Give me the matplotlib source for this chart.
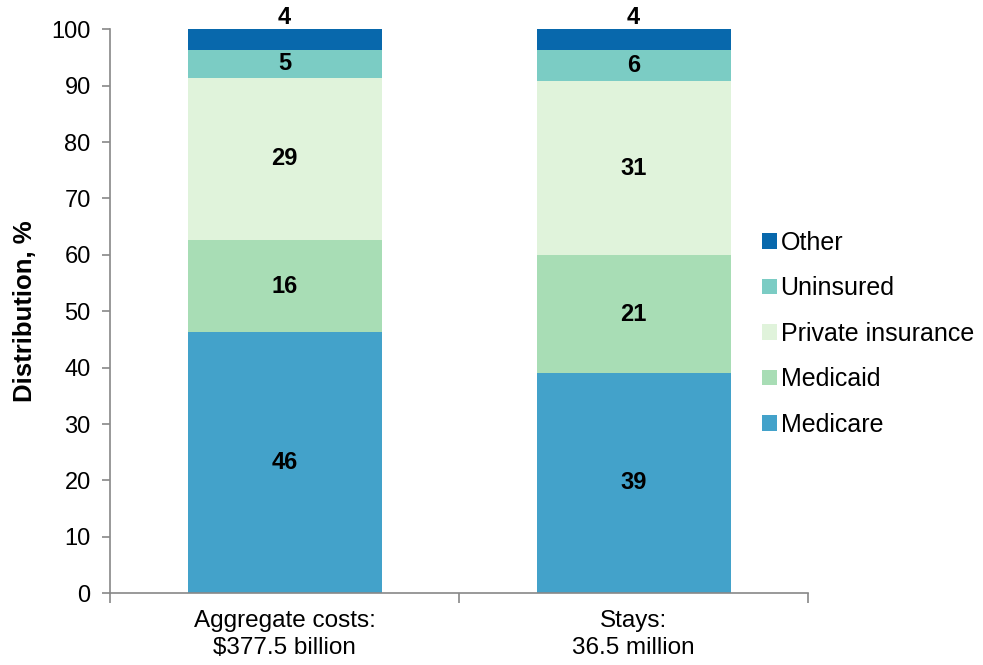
import matplotlib
matplotlib.use("Agg")
import matplotlib.pyplot as plt
import numpy as np

plt.rcParams['font.family'] = ['Liberation Sans', 'DejaVu Sans']

# Data (percent distribution by payer)
categories = ['Aggregate costs:\n$377.5 billion', 'Stays:\n36.5 million']
payers = ['Medicare', 'Medicaid', 'Private insurance', 'Uninsured', 'Other']
medicare = [46.3, 39.1]
medicaid = [16.3, 20.8]
private_ins = [28.8, 30.9]
uninsured = [4.9, 5.6]
other = [3.7, 3.6]

colors = ['#43a2ca', '#a8ddb5', '#e0f3db', '#7bccc4', '#0868ac']

fig = plt.figure(figsize=(9.83, 6.65), dpi=100)
ax = fig.add_axes([0.112, 0.108, 0.71, 0.848])

x = np.arange(len(categories))
bottom = np.zeros(len(categories))
series = [medicare, medicaid, private_ins, uninsured, other]
for vals, name, col in zip(series, payers, colors):
    vals = np.array(vals)
    ax.bar(x, vals, width=0.556, bottom=bottom, color=col, label=name,
           edgecolor='none', zorder=2)
    for xi, v, bt in zip(x, vals, bottom):
        if name == 'Other':
            ax.text(xi, bt + v + 0.1, f'{v:.0f}', ha='center', va='bottom',
                    fontsize=17, fontweight='bold')
        else:
            ax.text(xi, bt + v / 2, f'{v:.0f}', ha='center', va='center',
                    fontsize=17, fontweight='bold')
    bottom = bottom + vals

ax.set_xlim(-0.5, 1.5)
ax.set_ylim(0, 100)
ax.set_yticks(np.arange(0, 101, 10))
ax.set_xticks(x)
ax.set_xticklabels(categories, fontsize=17.5, linespacing=1.3)
ax.set_xticks([-0.5, 0.5, 1.5], minor=True)
ax.tick_params(axis='x', which='major', length=0, pad=12)
ax.tick_params(axis='x', which='minor', length=7, color='#888888', width=1.2)
ax.tick_params(axis='y', labelsize=17, length=6, color='#888888', width=1.2, pad=8)
ax.set_ylabel('Distribution, %', fontsize=18.5, fontweight='bold', labelpad=10)

for s in ['top', 'right']:
    ax.spines[s].set_visible(False)
for s in ['left', 'bottom']:
    ax.spines[s].set_color('#888888')
    ax.spines[s].set_linewidth(1.2)

handles, labels = ax.get_legend_handles_labels()
fig.legend(handles[::-1], labels[::-1], loc='center left',
           bbox_to_anchor=(0.775, 0.498), frameon=False, fontsize=18,
           handlelength=0.6, handleheight=0.6, handletextpad=0.15,
           labelspacing=0.86, borderaxespad=0, borderpad=0)

fig.savefig('out.png', dpi=100)
